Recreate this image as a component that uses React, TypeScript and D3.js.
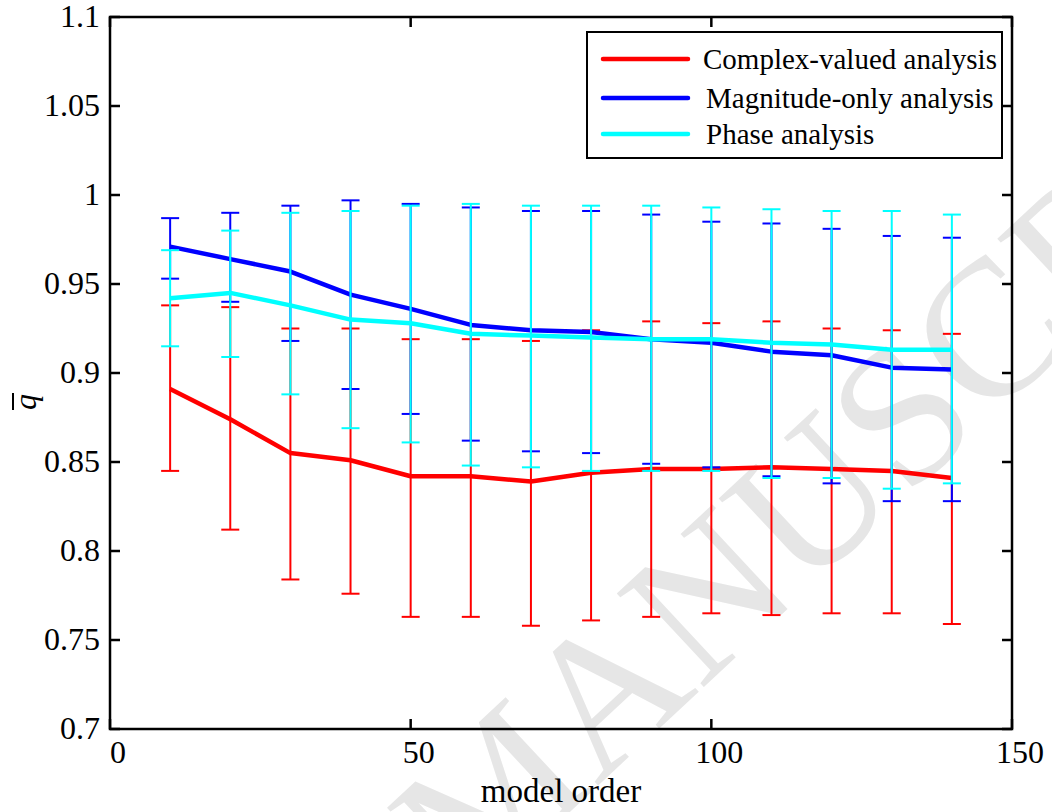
import React from 'react';
import * as d3 from 'd3';

// model orders and the three series
const modelOrder = [10, 20, 30, 40, 50, 60, 70, 80, 90, 100, 110, 120, 130, 140];

const complexMean = [0.891, 0.874, 0.855, 0.851, 0.842, 0.842, 0.839, 0.844, 0.846, 0.846, 0.847, 0.846, 0.845, 0.841];
const complexUpper = [0.938, 0.937, 0.925, 0.925, 0.919, 0.919, 0.918, 0.924, 0.929, 0.928, 0.929, 0.925, 0.924, 0.922];
const complexLower = [0.845, 0.812, 0.784, 0.776, 0.763, 0.763, 0.758, 0.761, 0.763, 0.765, 0.764, 0.765, 0.765, 0.759];

const magMean = [0.971, 0.964, 0.957, 0.944, 0.936, 0.927, 0.924, 0.923, 0.919, 0.917, 0.912, 0.910, 0.903, 0.902];
const magUpper = [0.987, 0.990, 0.994, 0.997, 0.995, 0.993, 0.991, 0.991, 0.989, 0.985, 0.984, 0.981, 0.977, 0.976];
const magLower = [0.953, 0.940, 0.918, 0.891, 0.877, 0.862, 0.856, 0.855, 0.849, 0.847, 0.842, 0.838, 0.828, 0.828];

const phaseMean = [0.942, 0.945, 0.938, 0.930, 0.928, 0.922, 0.921, 0.920, 0.919, 0.919, 0.917, 0.916, 0.913, 0.913];
const phaseUpper = [0.969, 0.980, 0.990, 0.991, 0.994, 0.995, 0.994, 0.994, 0.994, 0.993, 0.992, 0.991, 0.991, 0.989];
const phaseLower = [0.915, 0.909, 0.888, 0.869, 0.861, 0.848, 0.847, 0.845, 0.845, 0.845, 0.841, 0.841, 0.835, 0.838];

const xTicks = [0, 50, 100, 150];
const yTicks = [0.7, 0.75, 0.8, 0.85, 0.9, 0.95, 1, 1.05, 1.1];

const seriesNames = ['Complex-valued analysis', 'Magnitude-only analysis', 'Phase analysis'];
const seriesColors = ['#ff0000', '#0000ff', '#00ffff'];

const font = '"Liberation Serif", "Times New Roman", serif';

const App = () => {
  const width = 1052;
  const height = 812;
  const left = 110, right = 1012, top = 17, bottom = 729;

  const x = d3.scaleLinear().domain([0, 150]).range([left, right]);
  const y = d3.scaleLinear().domain([0.7, 1.1]).range([bottom, top]);

  const series = [
    { mean: complexMean, lo: complexLower, hi: complexUpper },
    { mean: magMean, lo: magLower, hi: magUpper },
    { mean: phaseMean, lo: phaseLower, hi: phaseUpper },
  ];

  const line = d3.line<number>()
    .x((_, i) => x(modelOrder[i]))
    .y((d) => y(d));

  const cap = 9;
  const tickLen = 10;

  return (
    <svg width={width} height={height} style={{ display: 'block', position: 'absolute', left: 0, top: 0 }}>
      <rect width={width} height={height} fill="#fff" />

      {/* watermark, cut by the page edges as in the original */}
      <text
        transform="translate(470,905) rotate(-43)"
        fontFamily={font}
        fontSize={195}
        fill="#e6e6e6"
      >
        MANUSCRIPT
      </text>

      {/* error bars and mean lines, one series at a time */}
      {series.map((s, k) => (
        <g key={k} stroke={seriesColors[k]} fill="none">
          {modelOrder.map((m, i) => (
            <g key={i} strokeWidth={2}>
              <line x1={x(m)} x2={x(m)} y1={y(s.lo[i])} y2={y(s.hi[i])} />
              <line x1={x(m) - cap} x2={x(m) + cap} y1={y(s.lo[i])} y2={y(s.lo[i])} />
              <line x1={x(m) - cap} x2={x(m) + cap} y1={y(s.hi[i])} y2={y(s.hi[i])} />
            </g>
          ))}
          <path d={line(s.mean) || ''} strokeWidth={4.5} strokeLinejoin="round" />
        </g>
      ))}

      {/* axes box and ticks */}
      <g stroke="#000" strokeWidth={2.5}>
        <rect x={left} y={top} width={right - left} height={bottom - top} fill="none" />
        {yTicks.map((t) => (
          <g key={t}>
            <line x1={left} x2={left + tickLen} y1={y(t)} y2={y(t)} />
            <line x1={right} x2={right - tickLen} y1={y(t)} y2={y(t)} />
          </g>
        ))}
        {xTicks.map((t) => (
          <g key={t}>
            <line x1={x(t)} x2={x(t)} y1={bottom} y2={bottom - tickLen} />
            <line x1={x(t)} x2={x(t)} y1={top} y2={top + tickLen} />
          </g>
        ))}
      </g>

      <g fontFamily={font} fontSize={32} fill="#000">
        {yTicks.map((t) => (
          <text key={t} x={left - 10} y={y(t) + 10} textAnchor="end">
            {d3.format('~g')(t)}
          </text>
        ))}
        {xTicks.map((t) => (
          <text key={t} x={x(t) + 8} y={763} textAnchor="middle">
            {t}
          </text>
        ))}
        <text x={(left + right) / 2} y={802} textAnchor="middle" fontSize={33}>
          model order
        </text>
      </g>

      {/* y label: q with an overbar */}
      <g transform="translate(36,402) rotate(-90)">
        <text x={0} y={0} textAnchor="middle" fontFamily={font} fontStyle="italic" fontSize={32}>
          q
        </text>
        <line x1={-8} x2={9} y1={-23} y2={-23} stroke="#000" strokeWidth={2} />
      </g>

      {/* legend */}
      <g>
        <rect x={587} y={32} width={415} height={126} fill="#fff" stroke="#000" strokeWidth={2} />
        {seriesNames.map((name, i) => {
          const ly = [59, 98, 134][i];
          return (
            <g key={name}>
              <line x1={603} x2={688} y1={ly} y2={ly} stroke={seriesColors[i]} strokeWidth={4.5} strokeLinecap="round" />
              <text x={703 + (i === 0 ? 0 : 3)} y={ly + 10} fontFamily={font} fontSize={29}>
                {name}
              </text>
            </g>
          );
        })}
      </g>
    </svg>
  );
};

export default App;
